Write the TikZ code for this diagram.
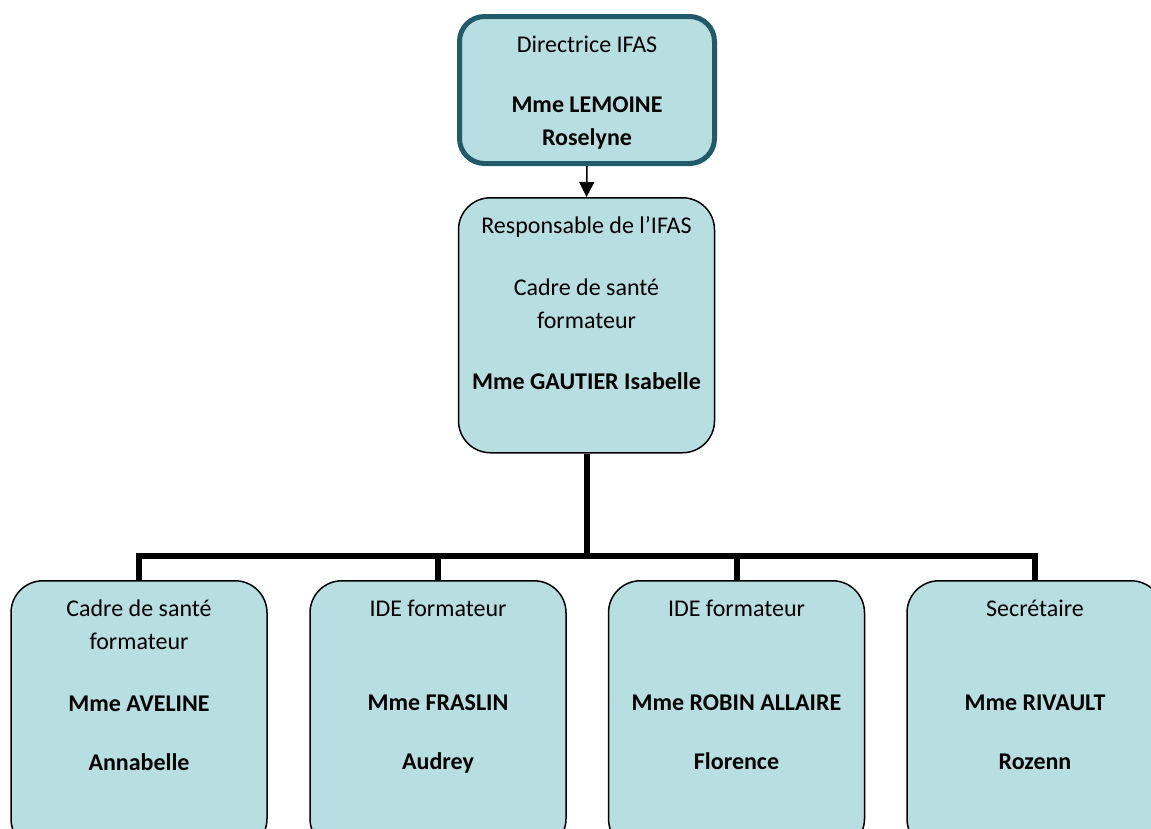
\documentclass[tikz,border=0pt]{standalone}
\usepackage{fontspec}
\setmainfont{Carlito}
\usetikzlibrary{arrows.meta}

\definecolor{fondposte}{HTML}{B7DEE1}
\definecolor{borddirection}{HTML}{215B69}

% boite a texte cale en haut : largeur, hauteur, lignes
\newcommand{\contenu}[3]{\begin{minipage}[t][#2][t]{#1}\centering
  \fontsize{24}{33}\selectfont\rule{0pt}{36pt}#3\end{minipage}}

\tikzset{
  poste/.style={draw=black, line width=1.5pt, fill=fondposte,
    rounded corners=32pt, inner sep=0pt, anchor=north},
  direction/.style={poste, draw=borddirection, line width=5pt,
    rounded corners=25pt},
  liaison/.style={line width=6pt, black},
}

\begin{document}
\begin{tikzpicture}[x=1pt, y=-1pt]
  % cadre de la page
  \useasboundingbox[clip] (0,0) rectangle (1151,828);

  % direction
  \node[direction] (directrice) at (587,14)
    {\contenu{255pt}{147pt}{Directrice IFAS\\[27pt]
      \textbf{Mme LEMOINE}\\ \textbf{Roselyne}}};

  % responsable
  \node[poste] (responsable) at (586.5,197)
    {\contenu{256pt}{255pt}{Responsable de l’IFAS\\[29pt]
      Cadre de santé\\ formateur\\[28pt]
      \textbf{Mme GAUTIER Isabelle}}};

  % equipe
  \node[poste] (aveline) at (139,580)
    {\contenu{256pt}{270pt}{Cadre de santé\\ formateur\\[29pt]
      \textbf{Mme AVELINE}\\[26pt] \textbf{Annabelle}}};
  \node[poste] (fraslin) at (438,580)
    {\contenu{256pt}{270pt}{IDE formateur\\[61pt]
      \textbf{Mme FRASLIN}\\[26pt] \textbf{Audrey}}};
  \node[poste] (robin) at (736.5,580)
    {\contenu{256pt}{270pt}{IDE formateur\\[61pt]
      \textbf{Mme ROBIN ALLAIRE}\\[26pt] \textbf{Florence}}};
  \node[poste] (rivault) at (1035,580)
    {\contenu{256pt}{270pt}{Secrétaire\\[61pt]
      \textbf{Mme RIVAULT}\\[26pt] \textbf{Rozenn}}};

  % liaisons
  \draw[-{Triangle[length=15pt,width=15pt]}, line width=1.5pt]
    (directrice.south) -- (responsable.north);

  \coordinate (jonction) at (586.5,556);
  \draw[liaison] (responsable.south) -- (jonction);
  \draw[liaison] (aveline.north) |- (jonction) -| (rivault.north);
  \draw[liaison] (fraslin.north) -- (fraslin.north |- jonction);
  \draw[liaison] (robin.north) -- (robin.north |- jonction);
\end{tikzpicture}
\end{document}
